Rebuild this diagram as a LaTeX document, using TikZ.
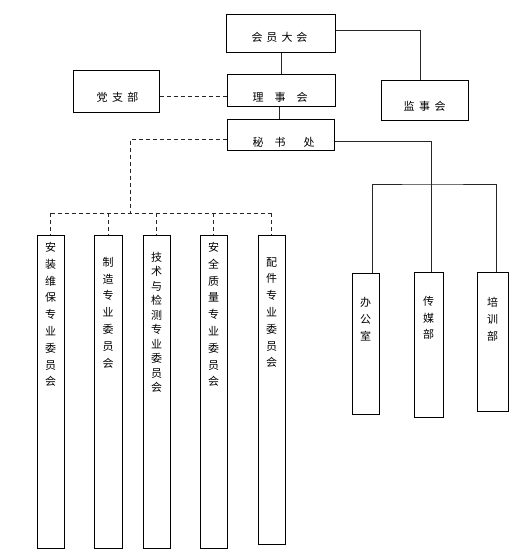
\documentclass[tikz,border=0pt]{standalone}
\usepackage{fontspec}
\newfontfamily\cjk{Noto Sans CJK SC}
\usetikzlibrary{calc}
\tikzset{
  box/.style={draw=black,line width=1pt,inner sep=0pt,fill=white},
  txt/.style={inner sep=0pt,font=\cjk\fontsize{11}{13}\selectfont},
  vtxt/.style={inner sep=0pt,anchor=north,align=center,font=\cjk\fontsize{11}{16.8}\selectfont},
  conn/.style={line width=0.8pt,draw=black!85},
  dconn/.style={line width=0.8pt,draw=black!85,dash pattern=on 4pt off 3pt}
}
\begin{document}
\begin{tikzpicture}[x=1pt,y=-1pt]
\useasboundingbox (0,0) rectangle (530,559);
% top level
\node[box,minimum width=109pt,minimum height=38pt] (hy) at (280.5,34) {};
\node[box,minimum width=108pt,minimum height=32pt] (lsh) at (281,91) {};
\node[box,minimum width=107pt,minimum height=30pt] (msc) at (280.5,135) {};
\node[box,minimum width=87pt,minimum height=40pt] (jsh) at (424.5,101) {};
\node[box,minimum width=86pt,minimum height=42pt] (dzb) at (116,92) {};
\node[txt] (thy) at (279.5,37) {会\hspace{4pt}员\hspace{4pt}大\hspace{4pt}会};
\node[txt] (tlsh) at (280,97) {理\hspace{11pt}事\hspace{11pt}会};
\node[txt,anchor=west] (tmsc) at (252.5,142) {秘\hspace{11pt}书\hspace{18pt}处};
\node[txt] (tjsh) at (424.5,106) {监\hspace{4.5pt}事\hspace{4.5pt}会};
\node[txt] (tdzb) at (117.5,97) {党\hspace{4.5pt}支\hspace{4.5pt}部};
% committees
\node[box,minimum width=27pt,minimum height=313pt] (c1) at (50.5,391.5) {};
\node[box,minimum width=28pt,minimum height=313pt] (c2) at (108,391.5) {};
\node[box,minimum width=27pt,minimum height=313pt] (c3) at (156.5,391.5) {};
\node[box,minimum width=27pt,minimum height=313pt] (c4) at (213.5,391.5) {};
\node[box,minimum width=27pt,minimum height=309pt] (c5) at (271.5,389.5) {};
\node[vtxt] (t1) at ($(c1.north)+(0,7.5)$) {安\\装\\维\\保\\专\\业\\委\\员\\会};
\node[vtxt] (t2) at ($(c2.north)+(0,22.5)$) {制\\造\\专\\业\\委\\员\\会};
\node[vtxt,font=\cjk\fontsize{11}{14.5}\selectfont] (t3) at ($(c3.north)+(0,17.5)$) {技\\术\\与\\检\\测\\专\\业\\委\\员\\会};
\node[vtxt] (t4) at ($(c4.north)+(0,7.5)$) {安\\全\\质\\量\\专\\业\\委\\员\\会};
\node[vtxt] (t5) at ($(c5.north)+(0,22.5)$) {配\\件\\专\\业\\委\\员\\会};
% departments
\node[box,minimum width=27pt,minimum height=141pt] (b1) at (365.5,343.5) {};
\node[box,minimum width=29pt,minimum height=145pt] (b2) at (428.5,344.5) {};
\node[box,minimum width=31pt,minimum height=139pt] (b3) at (492.5,341.5) {};
\node[vtxt] (tb1) at ($(b1.north)+(0,24.5)$) {办\\公\\室};
\node[vtxt] (tb2) at ($(b2.north)+(0,24.5)$) {传\\媒\\部};
\node[vtxt] (tb3) at ($(b3.north)+(0,25.5)$) {培\\训\\部};
% connectors
\coordinate (jshtop) at ($(jsh.north)+(-4.5,0)$);
\draw[conn] ($(hy.east)+(0,-4)$) -| (jshtop);
\draw[conn] ($(hy.south)+(0.5,0)$) -- ($(lsh.north)$);
\draw[conn] ($(lsh.south)+(-2,0)$) -- ($(msc.north)+(-1.5,0)$);
\draw[dconn] ($(dzb.east)+(0,4)$) -- ($(lsh.west)+(0,5)$);
% secretariat dashed tree
\coordinate (bus) at (130,213);
\draw[dconn] ($(msc.west)+(0,4)$) -| (bus);
\draw[dconn] (c1.north |- bus) -- (c5.north |- bus);
\foreach \c in {c1,c2,c3,c4,c5}{
  \draw[dconn] (\c.north |- bus) -- (\c.north);
}
% right solid tree
\coordinate (rbus) at (431,184);
\draw[conn] ($(msc.east)+(0,6)$) -| ($(b2.north)+(2.5,0)$);
\draw[conn] ($(b1.north)+(6.5,0)$) |- (rbus) -| ($(b3.north)+(3.5,0)$);
\end{tikzpicture}
\end{document}
